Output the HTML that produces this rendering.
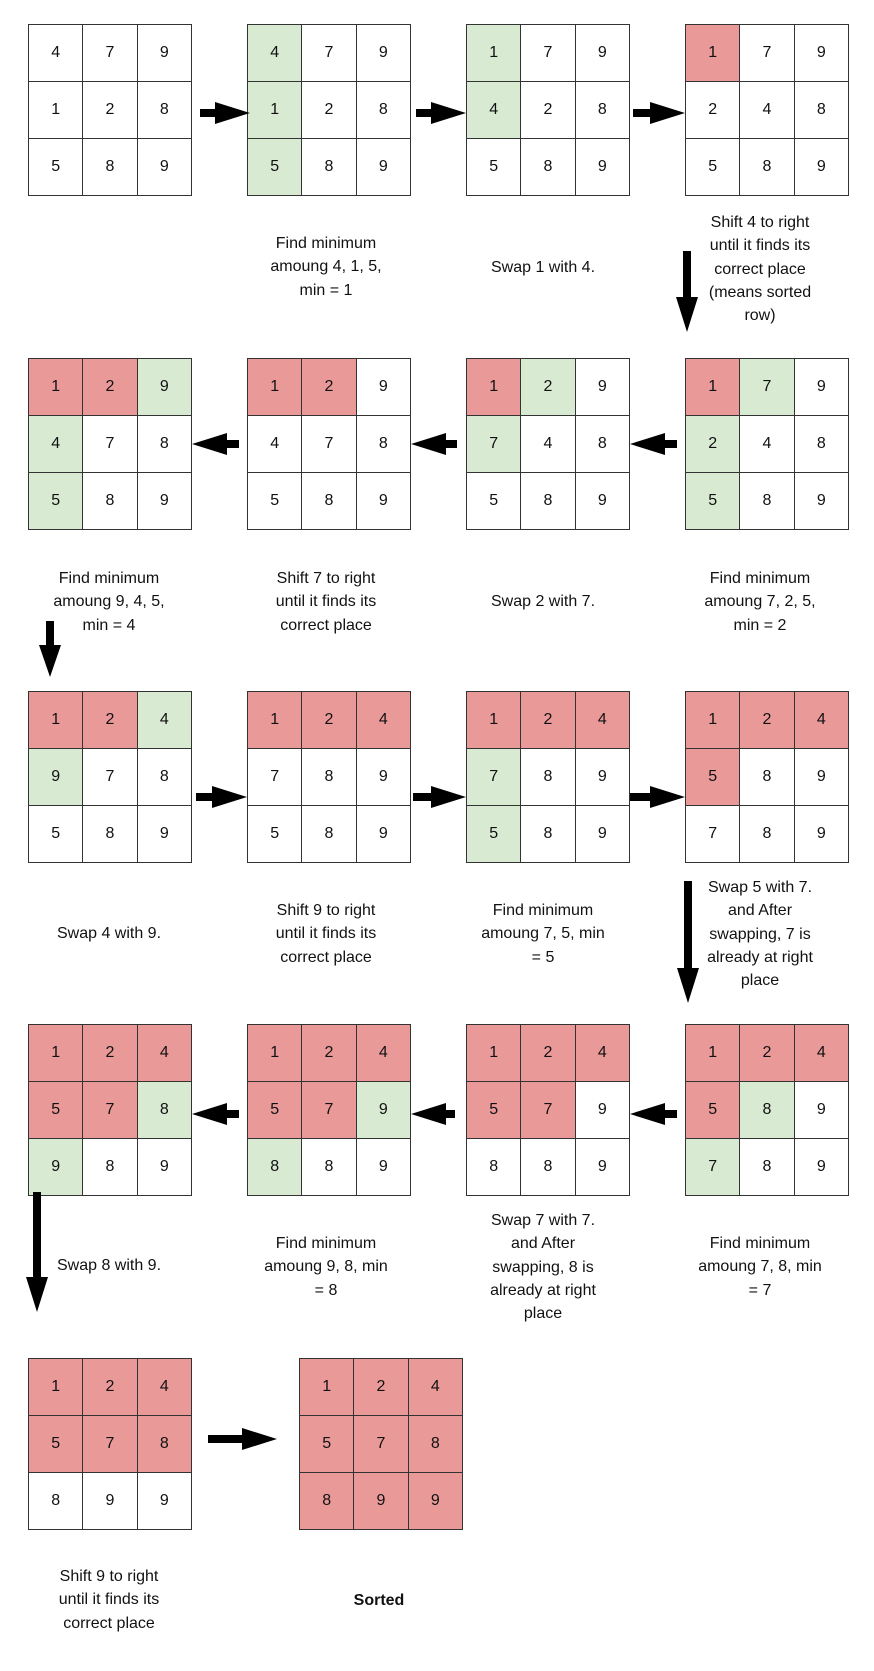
<!DOCTYPE html>
<html><head><meta charset="utf-8"><style>
body{margin:0;width:874px;height:1671px;background:#fff;position:relative;font-family:"Liberation Sans",Arial,sans-serif;color:#111;overflow:hidden}
.g{position:absolute;width:164px;height:172px;box-sizing:border-box;border-left:1.5px solid #333;border-top:1.5px solid #333;display:grid;grid-template-columns:repeat(3,1fr);grid-template-rows:repeat(3,1fr)}
.g i{font-style:normal;border-right:1.5px solid #333;border-bottom:1.5px solid #333;display:flex;align-items:center;justify-content:center;font-size:16px;background:#fff}
.g i.r{background:#ea9999}.g i.e{background:#d9ead3}
.t{position:absolute;width:220px;text-align:center;font-size:16px;line-height:23.3px}
svg{position:absolute;left:0;top:0}
</style></head><body>
<div class="g" style="left:28px;top:24px"><i>4</i><i>7</i><i>9</i><i>1</i><i>2</i><i>8</i><i>5</i><i>8</i><i>9</i></div>
<div class="g" style="left:247px;top:24px"><i class="e">4</i><i>7</i><i>9</i><i class="e">1</i><i>2</i><i>8</i><i class="e">5</i><i>8</i><i>9</i></div>
<div class="g" style="left:466px;top:24px"><i class="e">1</i><i>7</i><i>9</i><i class="e">4</i><i>2</i><i>8</i><i>5</i><i>8</i><i>9</i></div>
<div class="g" style="left:685px;top:24px"><i class="r">1</i><i>7</i><i>9</i><i>2</i><i>4</i><i>8</i><i>5</i><i>8</i><i>9</i></div>

<div class="g" style="left:28px;top:358px"><i class="r">1</i><i class="r">2</i><i class="e">9</i><i class="e">4</i><i>7</i><i>8</i><i class="e">5</i><i>8</i><i>9</i></div>
<div class="g" style="left:247px;top:358px"><i class="r">1</i><i class="r">2</i><i>9</i><i>4</i><i>7</i><i>8</i><i>5</i><i>8</i><i>9</i></div>
<div class="g" style="left:466px;top:358px"><i class="r">1</i><i class="e">2</i><i>9</i><i class="e">7</i><i>4</i><i>8</i><i>5</i><i>8</i><i>9</i></div>
<div class="g" style="left:685px;top:358px"><i class="r">1</i><i class="e">7</i><i>9</i><i class="e">2</i><i>4</i><i>8</i><i class="e">5</i><i>8</i><i>9</i></div>

<div class="g" style="left:28px;top:691px"><i class="r">1</i><i class="r">2</i><i class="e">4</i><i class="e">9</i><i>7</i><i>8</i><i>5</i><i>8</i><i>9</i></div>
<div class="g" style="left:247px;top:691px"><i class="r">1</i><i class="r">2</i><i class="r">4</i><i>7</i><i>8</i><i>9</i><i>5</i><i>8</i><i>9</i></div>
<div class="g" style="left:466px;top:691px"><i class="r">1</i><i class="r">2</i><i class="r">4</i><i class="e">7</i><i>8</i><i>9</i><i class="e">5</i><i>8</i><i>9</i></div>
<div class="g" style="left:685px;top:691px"><i class="r">1</i><i class="r">2</i><i class="r">4</i><i class="r">5</i><i>8</i><i>9</i><i>7</i><i>8</i><i>9</i></div>

<div class="g" style="left:28px;top:1024px"><i class="r">1</i><i class="r">2</i><i class="r">4</i><i class="r">5</i><i class="r">7</i><i class="e">8</i><i class="e">9</i><i>8</i><i>9</i></div>
<div class="g" style="left:247px;top:1024px"><i class="r">1</i><i class="r">2</i><i class="r">4</i><i class="r">5</i><i class="r">7</i><i class="e">9</i><i class="e">8</i><i>8</i><i>9</i></div>
<div class="g" style="left:466px;top:1024px"><i class="r">1</i><i class="r">2</i><i class="r">4</i><i class="r">5</i><i class="r">7</i><i>9</i><i>8</i><i>8</i><i>9</i></div>
<div class="g" style="left:685px;top:1024px"><i class="r">1</i><i class="r">2</i><i class="r">4</i><i class="r">5</i><i class="e">8</i><i>9</i><i class="e">7</i><i>8</i><i>9</i></div>

<div class="g" style="left:28px;top:1358px"><i class="r">1</i><i class="r">2</i><i class="r">4</i><i class="r">5</i><i class="r">7</i><i class="r">8</i><i>8</i><i>9</i><i>9</i></div>
<div class="g" style="left:299px;top:1358px"><i class="r">1</i><i class="r">2</i><i class="r">4</i><i class="r">5</i><i class="r">7</i><i class="r">8</i><i class="r">8</i><i class="r">9</i><i class="r">9</i></div>

<svg width="874" height="1671" fill="#000">
<polygon points="200,109 215,109 215,102 250,113 215,124 215,117 200,117"/>
<polygon points="416,109 431,109 431,102 466,113 431,124 431,117 416,117"/>
<polygon points="633,109 650,109 650,102 685,113 650,124 650,117 633,117"/>
<polygon points="683,251 691,251 691,297 698,297 687,332 676,297 683,297"/>
<polygon points="239,440 227,440 227,433 192,444 227,455 227,448 239,448"/>
<polygon points="457,440 446,440 446,433 411,444 446,455 446,448 457,448"/>
<polygon points="677,440 665,440 665,433 630,444 665,455 665,448 677,448"/>
<polygon points="46,621 54,621 54,645 61,645 50,677 39,645 46,645"/>
<polygon points="196,793 212,793 212,786 247,797 212,808 212,801 196,801"/>
<polygon points="413,793 431,793 431,786 466,797 431,808 431,801 413,801"/>
<polygon points="630,793 650,793 650,786 685,797 650,808 650,801 630,801"/>
<polygon points="684,881 692,881 692,968 699,968 688,1003 677,968 684,968"/>
<polygon points="239,1110 227,1110 227,1103 192,1114 227,1125 227,1118 239,1118"/>
<polygon points="455,1110 446,1110 446,1103 411,1114 446,1125 446,1118 455,1118"/>
<polygon points="677,1110 665,1110 665,1103 630,1114 665,1125 665,1118 677,1118"/>
<polygon points="33,1192 41,1192 41,1277 48,1277 37,1312 26,1277 33,1277"/>
<polygon points="208,1435 242,1435 242,1428 277,1439 242,1450 242,1443 208,1443"/>
</svg>

<div class="t" style="left:216px;top:232px">Find minimum<br>amoung 4, 1, 5,<br>min = 1</div>
<div class="t" style="left:433px;top:256px">Swap 1 with 4.</div>
<div class="t" style="left:650px;top:211px">Shift 4 to right<br>until it finds its<br>correct place<br>(means sorted<br>row)</div>

<div class="t" style="left:-1px;top:567px">Find minimum<br>amoung 9, 4, 5,<br>min = 4</div>
<div class="t" style="left:216px;top:567px">Shift 7 to right<br>until it finds its<br>correct place</div>
<div class="t" style="left:433px;top:590px">Swap 2 with 7.</div>
<div class="t" style="left:650px;top:567px">Find minimum<br>amoung 7, 2, 5,<br>min = 2</div>

<div class="t" style="left:-1px;top:922px">Swap 4 with 9.</div>
<div class="t" style="left:216px;top:899px">Shift 9 to right<br>until it finds its<br>correct place</div>
<div class="t" style="left:433px;top:899px">Find minimum<br>amoung 7, 5, min<br>= 5</div>
<div class="t" style="left:650px;top:876px">Swap 5 with 7.<br>and After<br>swapping, 7 is<br>already at right<br>place</div>

<div class="t" style="left:-1px;top:1254px">Swap 8 with 9.</div>
<div class="t" style="left:216px;top:1232px">Find minimum<br>amoung 9, 8, min<br>= 8</div>
<div class="t" style="left:433px;top:1209px">Swap 7 with 7.<br>and After<br>swapping, 8 is<br>already at right<br>place</div>
<div class="t" style="left:650px;top:1232px">Find minimum<br>amoung 7, 8, min<br>= 7</div>

<div class="t" style="left:-1px;top:1565px">Shift 9 to right<br>until it finds its<br>correct place</div>
<div class="t" style="left:269px;top:1589px;font-weight:bold">Sorted</div>
</body></html>
